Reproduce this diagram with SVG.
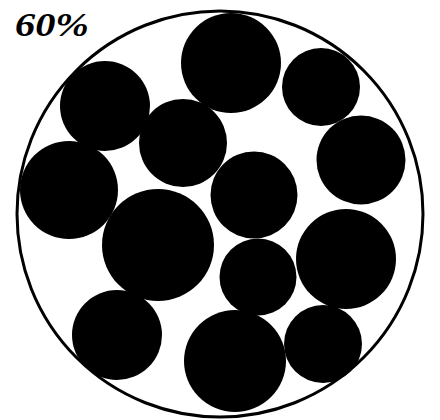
<svg xmlns="http://www.w3.org/2000/svg" width="440" height="420" viewBox="0 0 440 420">
<style>
.p{fill:#000}
.lbl{font-family:"Liberation Serif","DejaVu Serif",serif;font-weight:bold;font-style:italic;font-size:34px;fill:#000}
</style>
<rect width="440" height="420" fill="#fff"/>
<circle id="container" cx="220" cy="214" r="203" fill="none" stroke="#000" stroke-width="3"/>
<g id="particles">
<circle class="p" cx="231" cy="63" r="50"/>
<circle class="p" cx="321" cy="87" r="39"/>
<circle class="p" cx="361" cy="160" r="44.5"/>
<circle class="p" cx="105" cy="106" r="45"/>
<circle class="p" cx="183" cy="143" r="44"/>
<circle class="p" cx="69" cy="190" r="49"/>
<circle class="p" cx="254" cy="195" r="43.5"/>
<circle class="p" cx="158" cy="245" r="56"/>
<circle class="p" cx="346" cy="259" r="50"/>
<circle class="p" cx="258" cy="277" r="38.5"/>
<circle class="p" cx="117" cy="335" r="45"/>
<circle class="p" cx="235" cy="361" r="51"/>
<circle class="p" cx="323" cy="344" r="39"/>
</g>
<text class="lbl" x="15" y="36" textLength="74" lengthAdjust="spacingAndGlyphs">60%</text>
</svg>
